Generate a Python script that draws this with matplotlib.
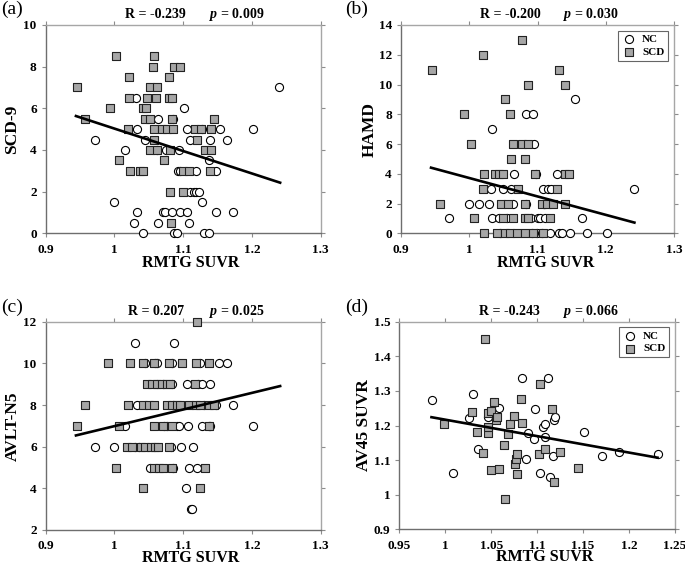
import numpy as np
import matplotlib
matplotlib.use('Agg')
import matplotlib.pyplot as plt

plt.rcParams['font.family'] = ['Liberation Serif', 'DejaVu Serif']
plt.rcParams['font.weight'] = 'bold'
plt.rcParams['mathtext.fontset'] = 'custom'
plt.rcParams['mathtext.it'] = 'Liberation Serif:italic:bold'
plt.rcParams['mathtext.rm'] = 'Liberation Serif:bold'

# ---- panel (a): SCD-9
a_nc_x = [0.971, 1.015, 0.999, 1.032, 1.033, 1.045, 1.033, 1.029, 1.041, 1.064, 1.062, 1.063,
          1.071, 1.074, 1.083, 1.075, 1.085, 1.087, 1.091, 1.094, 1.092, 1.096, 1.101, 1.096,
          1.105, 1.108, 1.106, 1.110, 1.110, 1.115, 1.118, 1.123, 1.119, 1.128, 1.130, 1.137,
          1.139, 1.138, 1.147, 1.148, 1.154, 1.164, 1.173, 1.201, 1.240, 1.128]
a_nc_y = [4.5, 4, 1.5, 6.5, 5, 4.5, 1, 0.5, 0, 5.5, 4, 0.5, 1, 1, 1, 4, 5.5, 0, 0, 4, 3, 3, 6, 1,
          1, 0.5, 5, 4.5, 2, 2, 2, 2, 3, 1.5, 0, 0, 4.5, 3.5, 3, 1, 5, 4.5, 1, 5, 7, 5]
a_scd_x = [0.945, 0.957, 1.002, 0.993, 1.021, 1.021, 1.019, 1.007, 1.023, 1.037, 1.041, 1.058,
           1.056, 1.052, 1.062, 1.048, 1.060, 1.041, 1.046, 1.045, 1.052, 1.057, 1.069, 1.076,
           1.085, 1.058, 1.051, 1.062, 1.081, 1.072, 1.079, 1.080, 1.084, 1.084, 1.086, 1.096,
           1.081, 1.082, 1.100, 1.099, 1.108, 1.117, 1.126, 1.120, 1.140, 1.145, 1.132, 1.140, 1.139]
a_scd_y = [7, 5.5, 8.5, 6, 7.5, 6.5, 5, 3.5, 3, 3, 3, 8.5, 8, 7, 7, 6.5, 6.5, 6, 6, 5.5, 5.5, 5, 5,
           5, 5, 4.5, 4, 4, 4, 3.5, 7.5, 6.5, 6.5, 5.5, 8, 8, 2, 0.5, 2, 3, 3, 5, 5, 4.5, 5, 5.5,
           4, 4, 3]
a_fit_x = [0.944, 1.241]
a_fit_y = [5.63, 2.43]

# ---- panel (b): HAMD
b_nc_x = [0.971, 0.999, 1.015, 1.029, 1.033, 1.032, 1.033, 1.043, 1.050, 1.061, 1.065, 1.064,
          1.083, 1.094, 1.095, 1.098, 1.083, 1.090, 1.101, 1.104, 1.092, 1.099, 1.106, 1.119,
          1.131, 1.136, 1.148, 1.173, 1.202, 1.108, 1.116, 1.120, 1.110, 1.111, 1.128, 1.155,
          1.165, 1.241, 1.045, 1.055]
b_nc_y = [1, 2, 2, 2, 7, 3, 1, 1, 3, 3, 4, 2, 8, 8, 6, 4, 2, 1, 1, 1, 0, 0, 0, 0, 0, 0, 0, 0, 0,
          3, 3, 3, 2, 1, 4, 9, 1, 3, 0, 1]
b_scd_x = [0.945, 0.957, 0.993, 1.003, 1.007, 1.020, 1.021, 1.020, 1.022, 1.037, 1.044, 1.050,
           1.053, 1.059, 1.064, 1.061, 1.047, 1.057, 1.049, 1.064, 1.040, 1.053, 1.060, 1.071,
           1.078, 1.081, 1.077, 1.086, 1.086, 1.081, 1.081, 1.086, 1.070, 1.082, 1.094, 1.096,
           1.106, 1.114, 1.122, 1.118, 1.108, 1.128, 1.132, 1.141, 1.141, 1.146, 1.141]
b_scd_y = [11, 2, 8, 6, 1, 12, 4, 3, 0, 4, 4, 4, 9, 8, 6, 5, 2, 2, 1, 1, 0, 0, 0, 3, 13, 5, 6, 6,
           10, 2, 1, 1, 0, 0, 0, 4, 2, 2, 2, 1, 0, 3, 11, 10, 4, 4, 2]
b_fit_x = [0.944, 1.242]
b_fit_y = [4.41, 0.72]

# ---- panel (c): AVLT-N5
c_nc_x = [0.971, 0.999, 1.016, 1.030, 1.033, 1.030, 1.035, 1.045, 1.051, 1.059, 1.062, 1.062,
          1.071, 1.084, 1.072, 1.077, 1.086, 1.083, 1.085, 1.085, 1.082, 1.091, 1.094, 1.097,
          1.106, 1.107, 1.109, 1.104, 1.111, 1.113, 1.114, 1.120, 1.122, 1.127, 1.127, 1.137,
          1.139, 1.139, 1.130, 1.147, 1.152, 1.163, 1.173, 1.201, 1.125]
c_nc_y = [6, 6, 7, 11, 8, 6, 6, 10, 5, 10, 10, 9, 9, 9, 7, 7, 11, 10, 8, 5, 6, 7, 7, 6, 9, 7, 5,
          4, 3, 3, 6, 5, 9, 9, 7, 7, 7, 9, 8, 8, 10, 10, 8, 7, 10]
c_scd_x = [0.945, 0.957, 0.991, 1.002, 1.006, 1.019, 1.023, 1.018, 1.025, 1.041, 1.041, 1.057,
           1.047, 1.055, 1.062, 1.069, 1.076, 1.081, 1.041, 1.050, 1.057, 1.038, 1.045, 1.053,
           1.059, 1.064, 1.057, 1.065, 1.070, 1.057, 1.071, 1.083, 1.079, 1.077, 1.084, 1.091,
           1.096, 1.098, 1.080, 1.084, 1.120, 1.117, 1.119, 1.108, 1.118, 1.125, 1.137, 1.145,
           1.125, 1.132, 1.137, 1.137]
c_scd_y = [7, 8, 10, 5, 7, 8, 10, 6, 6, 4, 10, 10, 9, 9, 9, 9, 9, 9, 8, 8, 8, 6, 6, 6, 6, 6, 5, 5,
           5, 7, 7, 7, 10, 8, 8, 8, 8, 10, 6, 5, 12, 9, 10, 8, 8, 8, 8, 8, 4, 5, 10, 7]
c_fit_x = [0.944, 1.241]
c_fit_y = [6.54, 8.91]

# ---- panel (d): AV45 SUVR
d_nc_x = [0.986, 1.008, 1.026, 1.030, 1.036, 1.047, 1.058, 1.083, 1.088, 1.090, 1.097, 1.098,
          1.103, 1.106, 1.108, 1.108, 1.112, 1.114, 1.117, 1.118, 1.119, 1.151, 1.171, 1.189, 1.231]
d_nc_y = [1.274, 1.064, 1.221, 1.290, 1.133, 1.225, 1.252, 1.338, 1.102, 1.179, 1.161, 1.247,
          1.064, 1.195, 1.203, 1.168, 1.338, 1.052, 1.112, 1.216, 1.224, 1.180, 1.112, 1.123, 1.119]
d_scd_x = [0.999, 1.029, 1.035, 1.041, 1.043, 1.047, 1.047, 1.047, 1.050, 1.050, 1.053, 1.055,
           1.056, 1.058, 1.064, 1.065, 1.068, 1.070, 1.075, 1.076, 1.077, 1.078, 1.078, 1.084,
           1.082, 1.102, 1.103, 1.109, 1.116, 1.118, 1.125, 1.144]
d_scd_y = [1.203, 1.240, 1.181, 1.120, 1.450, 1.177, 1.197, 1.235, 1.071, 1.242, 1.267, 1.216,
           1.226, 1.073, 1.144, 0.989, 1.174, 1.203, 1.227, 1.089, 1.102, 1.119, 1.059, 1.206,
           1.276, 1.117, 1.319, 1.132, 1.247, 1.036, 1.124, 1.076]
d_fit_x = [0.985, 1.231]
d_fit_y = [1.224, 1.107]

x_main = [0.9, 1.0, 1.1, 1.2, 1.3]
x_main_lbl = ['0.9', '1', '1.1', '1.2', '1.3']

panels = [
    dict(tag='(a)', nc=(a_nc_x, a_nc_y), scd=(a_scd_x, a_scd_y), fit=(a_fit_x, a_fit_y),
         ylabel='SCD-9', xlim=(0.9, 1.3), xt=x_main, xtl=x_main_lbl,
         ylim=(0, 10), yt=[0, 2, 4, 6, 8, 10], ytl=['0', '2', '4', '6', '8', '10'],
         r='R = -0.239', p='$p$ = 0.009', legend=False, pos=[45.7, 25, 320.7, 233.3],
         ylx=-0.095, tagxy=(1, 9), xlab_drop=34),
    dict(tag='(b)', nc=(b_nc_x, b_nc_y), scd=(b_scd_x, b_scd_y), fit=(b_fit_x, b_fit_y),
         ylabel='HAMD', xlim=(0.9, 1.3), xt=x_main, xtl=x_main_lbl,
         ylim=(0, 14), yt=[0, 2, 4, 6, 8, 10, 12, 14], ytl=['0', '2', '4', '6', '8', '10', '12', '14'],
         r='R = -0.200', p='$p$ = 0.030', legend=True, pos=[401, 25, 674, 233.3],
         ylx=-0.085, tagxy=(345, 9), xlab_drop=34),
    dict(tag='(c)', nc=(c_nc_x, c_nc_y), scd=(c_scd_x, c_scd_y), fit=(c_fit_x, c_fit_y),
         ylabel='AVLT-N5', xlim=(0.9, 1.3), xt=x_main, xtl=x_main_lbl,
         ylim=(2, 12), yt=[2, 4, 6, 8, 10, 12], ytl=['2', '4', '6', '8', '10', '12'],
         r='R = 0.207', p='$p$ = 0.025', legend=False, pos=[45.7, 321.7, 320.7, 530],
         ylx=-0.09, tagxy=(1, 307), xlab_drop=32),
    dict(tag='(d)', nc=(d_nc_x, d_nc_y), scd=(d_scd_x, d_scd_y), fit=(d_fit_x, d_fit_y),
         ylabel='AV45 SUVR', xlim=(0.95, 1.25), xt=[0.95, 1.0, 1.05, 1.1, 1.15, 1.2, 1.25],
         xtl=['0.95', '1', '1.05', '1.1', '1.15', '1.2', '1.25'],
         ylim=(0.9, 1.5), yt=[0.9, 1.0, 1.1, 1.2, 1.3, 1.4, 1.5], ytl=['0.9', '1', '1.1', '1.2', '1.3', '1.4', '1.5'],
         r='R = -0.243', p='$p$ = 0.066', legend=True, pos=[399.3, 321.7, 675, 529.3],
         ylx=-0.1, tagxy=(345, 307), xlab_drop=32),
]

W, H = 685, 566
fig = plt.figure(figsize=(W / 100, H / 100), dpi=100)

for pn in panels:
    x0, y0, x1, y1 = pn['pos']
    ax = fig.add_axes([x0 / W, 1 - y1 / H, (x1 - x0) / W, (y1 - y0) / H])
    ax.scatter(pn['nc'][0], pn['nc'][1], s=34, marker='o', facecolor='white',
               edgecolor='black', linewidth=0.8, label='NC', zorder=3, clip_on=False)
    ax.scatter(pn['scd'][0], pn['scd'][1], s=26, marker='s', facecolor='#a6a6a6',
               edgecolor='#222222', linewidth=0.8, label='SCD', zorder=4, clip_on=False)
    ax.plot(pn['fit'][0], pn['fit'][1], color='black', linewidth=1.9, zorder=5)

    ax.set_xlim(pn['xlim'])
    ax.set_ylim(pn['ylim'])
    ax.set_xticks(pn['xt'])
    ax.set_xticklabels(pn['xtl'])
    ax.set_yticks(pn['yt'])
    ax.set_yticklabels(pn['ytl'])
    ax.tick_params(direction='out', length=3, width=0.8, color='#8c8c8c',
                   labelsize=9.5, top=True, right=True)
    ax.tick_params(axis='x', pad=4.5)
    ax.tick_params(axis='y', pad=3.5)
    for side in ['left', 'bottom']:
        ax.spines[side].set_color('#6e6e6e')
        ax.spines[side].set_linewidth(1.0)
    for side in ['top', 'right']:
        ax.spines[side].set_color('#a6a6a6')
        ax.spines[side].set_linewidth(1.0)

    # x label baseline a fixed number of pixels under the plot frame
    ax.text(0.528, -pn['xlab_drop'] / (y1 - y0), 'RMTG SUVR', transform=ax.transAxes,
            ha='center', va='baseline', fontsize=11.5, fontweight='bold')
    ax.set_ylabel(pn['ylabel'], fontsize=12.5, fontweight='bold')
    ax.yaxis.set_label_coords(pn['ylx'], 0.5)

    ax.text(0.40, 1.05, pn['r'], transform=ax.transAxes, ha='center', va='center',
            fontsize=10, fontweight='bold')
    ax.text(0.695, 1.05, pn['p'], transform=ax.transAxes, ha='center', va='center',
            fontsize=10, fontweight='bold')
    tx, ty = pn['tagxy']
    fig.text(tx / W, 1 - ty / H, pn['tag'], ha='left', va='center',
             fontsize=14, fontweight='normal')

    if pn['legend']:
        leg = ax.legend(loc='upper right', fontsize=8, frameon=True, fancybox=False,
                        borderaxespad=0.5, handletextpad=0.6, handlelength=1.2,
                        borderpad=0.35, labelspacing=0.25, edgecolor='#404040')
        leg.get_frame().set_linewidth(0.8)

fig.savefig('out.png', dpi=100)
